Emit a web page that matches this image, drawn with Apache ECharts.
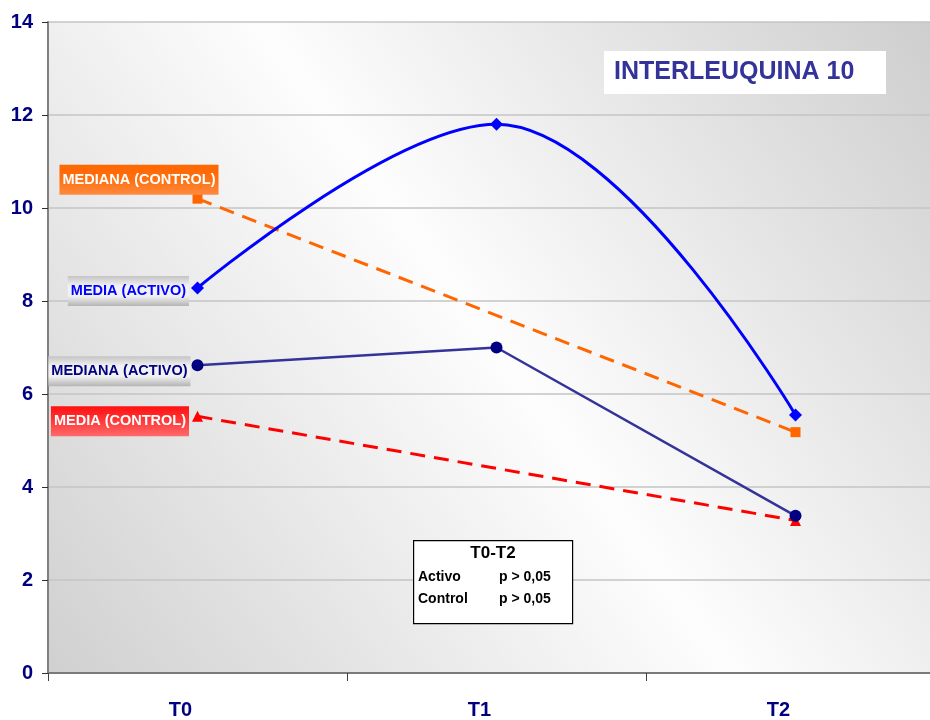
<!DOCTYPE html>
<html>
<head>
<meta charset="utf-8">
<script src="https://cdn.jsdelivr.net/npm/echarts@6/dist/echarts.min.js"></script>
<style>
  html, body { margin: 0; padding: 0; background: #ffffff; }
  #chart { width: 930px; height: 720px; }
</style>
</head>
<body>
<div id="chart"></div>
<script>
// Sampling times
const categories = ['T0', 'T1', 'T2'];

// Interleukin-10 values per group and statistic (T1 missing for the control group)
const mediaActivo    = [8.28, 11.8, 5.55];
const medianaActivo  = [6.62, 7.0, 3.38];
const medianaControl = [10.2, null, 5.18];
const mediaControl   = [5.52, null, 3.28];

// Series names shown as tags beside the first point
const seriesNames = ['MEDIA (ACTIVO)', 'MEDIANA (ACTIVO)', 'MEDIANA (CONTROL)', 'MEDIA (CONTROL)'];

const titleText = 'INTERLEUQUINA 10';
const statsHeader = 'T0-T2';
const statsRows = [['Activo', 'p > 0,05'], ['Control', 'p > 0,05']];

const FONT = 'Liberation Sans, Arial, sans-serif';

function vGrad(stops) {
  return new echarts.graphic.LinearGradient(0, 0, 0, 1,
    stops.map((c, i) => ({ offset: i / (stops.length - 1), color: c })));
}

const grayTag = vGrad(['#c4c4c4', '#f2f2f2', '#f2f2f2', '#b4b4b4']);
const orangeTag = vGrad(['#ff6600', '#ff7010', '#ff8a40']);
const redTag = vGrad(['#ff1010', '#ff3a3a', '#ff6a6a']);

function tagLabel(text, color, bg, offset) {
  return {
    show: true,
    position: 'left',
    distance: 0,
    offset: offset,
    formatter: text,
    color: color,
    fontFamily: FONT,
    fontWeight: 'bold',
    fontSize: 14.5,
    backgroundColor: bg,
    padding: [8, 3, 7, 3]
  };
}

function withTag(values, label) {
  return values.map((v, i) => i === 0 ? { value: v, label: label } : v);
}

const chart = echarts.init(document.getElementById('chart'), null, { renderer: 'canvas' });

const option = {
  animation: false,
  backgroundColor: '#ffffff',
  grid: {
    // the plot runs a little past the right edge of the canvas
    left: 48, width: 897, top: 22, bottom: 47,
    outerBoundsMode: 'none',
    containLabel: false,
    show: true,
    borderWidth: 0,
    backgroundColor: new echarts.graphic.LinearGradient(0, 1, 1, 0, [
      { offset: 0, color: '#d0d0d0' },
      { offset: 0.5, color: '#fdfdfd' },
      { offset: 1, color: '#cdcdcd' }
    ])
  },
  xAxis: {
    type: 'category',
    data: categories,
    boundaryGap: true,
    axisLine: { lineStyle: { color: '#7a7a7a', width: 2 } },
    axisTick: { show: true, length: 8, lineStyle: { color: '#404040', width: 1 } },
    axisLabel: {
      color: '#000080', fontFamily: FONT, fontWeight: 'bold', fontSize: 20,
      margin: 27, padding: [0, 34, 0, 0]
    },
    splitLine: { show: false }
  },
  yAxis: {
    type: 'value',
    min: 0, max: 14, interval: 2,
    axisLine: { show: true, lineStyle: { color: '#808080', width: 2 } },
    axisTick: { show: true, length: 6, lineStyle: { color: '#303030', width: 1 } },
    axisLabel: {
      color: '#000080', fontFamily: FONT, fontWeight: 'bold', fontSize: 20, margin: 15
    },
    splitLine: { show: true, lineStyle: { color: '#c4c4c4', width: 1.5 } }
  },
  series: [
    {
      name: seriesNames[2],
      type: 'line',
      data: withTag(medianaControl, tagLabel(seriesNames[2], '#ffffff', orangeTag, [26, -19])),
      connectNulls: true,
      symbol: 'rect',
      symbolSize: 10,
      itemStyle: { color: '#ff6600' },
      lineStyle: { color: '#ff6600', width: 3, type: [15, 9] },
      z: 2
    },
    {
      name: seriesNames[3],
      type: 'line',
      data: withTag(mediaControl, tagLabel(seriesNames[3], '#ffffff', redTag, [-3, 5])),
      connectNulls: true,
      symbol: 'triangle',
      symbolSize: 11,
      itemStyle: { color: '#ff0000' },
      lineStyle: { color: '#ff0000', width: 3, type: [15, 9] },
      z: 2
    },
    {
      name: seriesNames[1],
      type: 'line',
      data: withTag(medianaActivo, tagLabel(seriesNames[1], '#000080', grayTag, [-1, 6])),
      symbol: 'circle',
      symbolSize: 12,
      itemStyle: { color: '#000080' },
      lineStyle: { color: '#333399', width: 2.5 },
      z: 3
    },
    {
      name: seriesNames[0],
      type: 'line',
      data: withTag(mediaActivo, tagLabel(seriesNames[0], '#0000ff', grayTag, [-2, 3])),
      smooth: 0.38,
      symbol: 'diamond',
      symbolSize: 13,
      itemStyle: { color: '#0000ff' },
      lineStyle: { color: '#0000ff', width: 3 },
      z: 4
    }
  ],
  graphic: [
    {
      type: 'rect', left: 604, top: 51, z: 10,
      shape: { width: 282, height: 43 },
      style: { fill: '#ffffff' }
    },
    {
      type: 'text', left: 614, top: 60, z: 11,
      style: { text: titleText, fill: '#333399', font: 'bold 25px ' + FONT }
    },
    {
      type: 'rect', left: 413, top: 540, z: 10,
      shape: { width: 159, height: 83 },
      style: { fill: '#ffffff', stroke: '#000000', lineWidth: 1.2 }
    },
    {
      type: 'text', x: 493, y: 545, z: 11,
      style: { text: statsHeader, fill: '#000000', font: 'bold 17px ' + FONT, textAlign: 'center' }
    },
    {
      type: 'text', x: 418, y: 570, z: 11,
      style: { text: statsRows[0][0], fill: '#000000', font: 'bold 14px ' + FONT }
    },
    {
      type: 'text', x: 499, y: 570, z: 11,
      style: { text: statsRows[0][1], fill: '#000000', font: 'bold 14px ' + FONT }
    },
    {
      type: 'text', x: 418, y: 592, z: 11,
      style: { text: statsRows[1][0], fill: '#000000', font: 'bold 14px ' + FONT }
    },
    {
      type: 'text', x: 499, y: 592, z: 11,
      style: { text: statsRows[1][1], fill: '#000000', font: 'bold 14px ' + FONT }
    }
  ]
};

chart.setOption(option);
</script>
</body>
</html>
